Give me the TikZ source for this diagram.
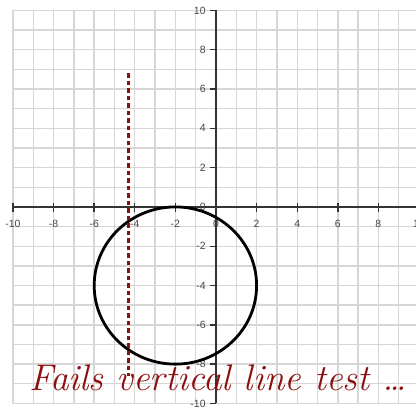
\documentclass[tikz,border=0pt]{standalone}
\usepackage{fontspec}
\setmainfont{Liberation Sans}
\newfontfamily\notefont{Latin Modern Roman}
\definecolor{grid-gray}{HTML}{D6D6D6}
\definecolor{axis-gray}{HTML}{333333}
\definecolor{note-red}{HTML}{8C1010}
\usepackage{tikz}

\begin{document}
\begin{tikzpicture}[x=20.3pt, y=19.65pt,
  gridline/.style={draw=grid-gray, line width=1.4pt},
  axisline/.style={draw=axis-gray, line width=1.4pt},
  ticklbl/.style={font=\fontsize{10.5}{12}\selectfont, text=axis-gray!90, inner sep=0pt},
  curve/.style={draw=black, line width=2.8pt},
  testline/.style={draw=note-red, line width=3pt, dash pattern=on 4.5pt off 3pt},
  notetext/.style={text=note-red, font=\notefont\itshape\fontsize{37}{42}\selectfont, inner sep=0pt}]

  \clip (-10.64,-10.23) rectangle (9.852,10.53);
  \fill[white] (-10.64,-10.23) rectangle (9.852,10.53);

  % grid
  \foreach \k in {-10,...,9} \draw[gridline] (\k,-10) -- (\k,10);
  \foreach \k in {-10,...,10} \draw[gridline] (-10,\k) -- (10,\k);

  % axes and ticks
  \draw[axisline] (-10,0) -- (10,0);
  \draw[axisline] (0,-10) -- (0,10);
  \foreach \k in {-10,-8,...,10} {
    \draw[axisline] (\k,-0.25) -- (\k,0.2);
    \node[ticklbl] at (\k,-0.87) {\k};
  }
  \foreach \k in {-10,-8,...,10} {
    \draw[axisline] (-0.3,\k) -- (0,\k);
    \node[ticklbl, anchor=east] at (-0.5,\k) {\k};
  }

  % circle
  \draw[curve] (-2,-4) circle [x radius=4, y radius=4];

  % vertical line test
  \coordinate (vtop) at (-4.3,6.8);
  \coordinate (vbot) at (-4.3,-8.6);
  \draw[testline] (vtop) -- (vbot);

  \node[notetext, anchor=base] (note) at (0.1,-9.36) {Fails vertical line test \dots};

\end{tikzpicture}
\end{document}
